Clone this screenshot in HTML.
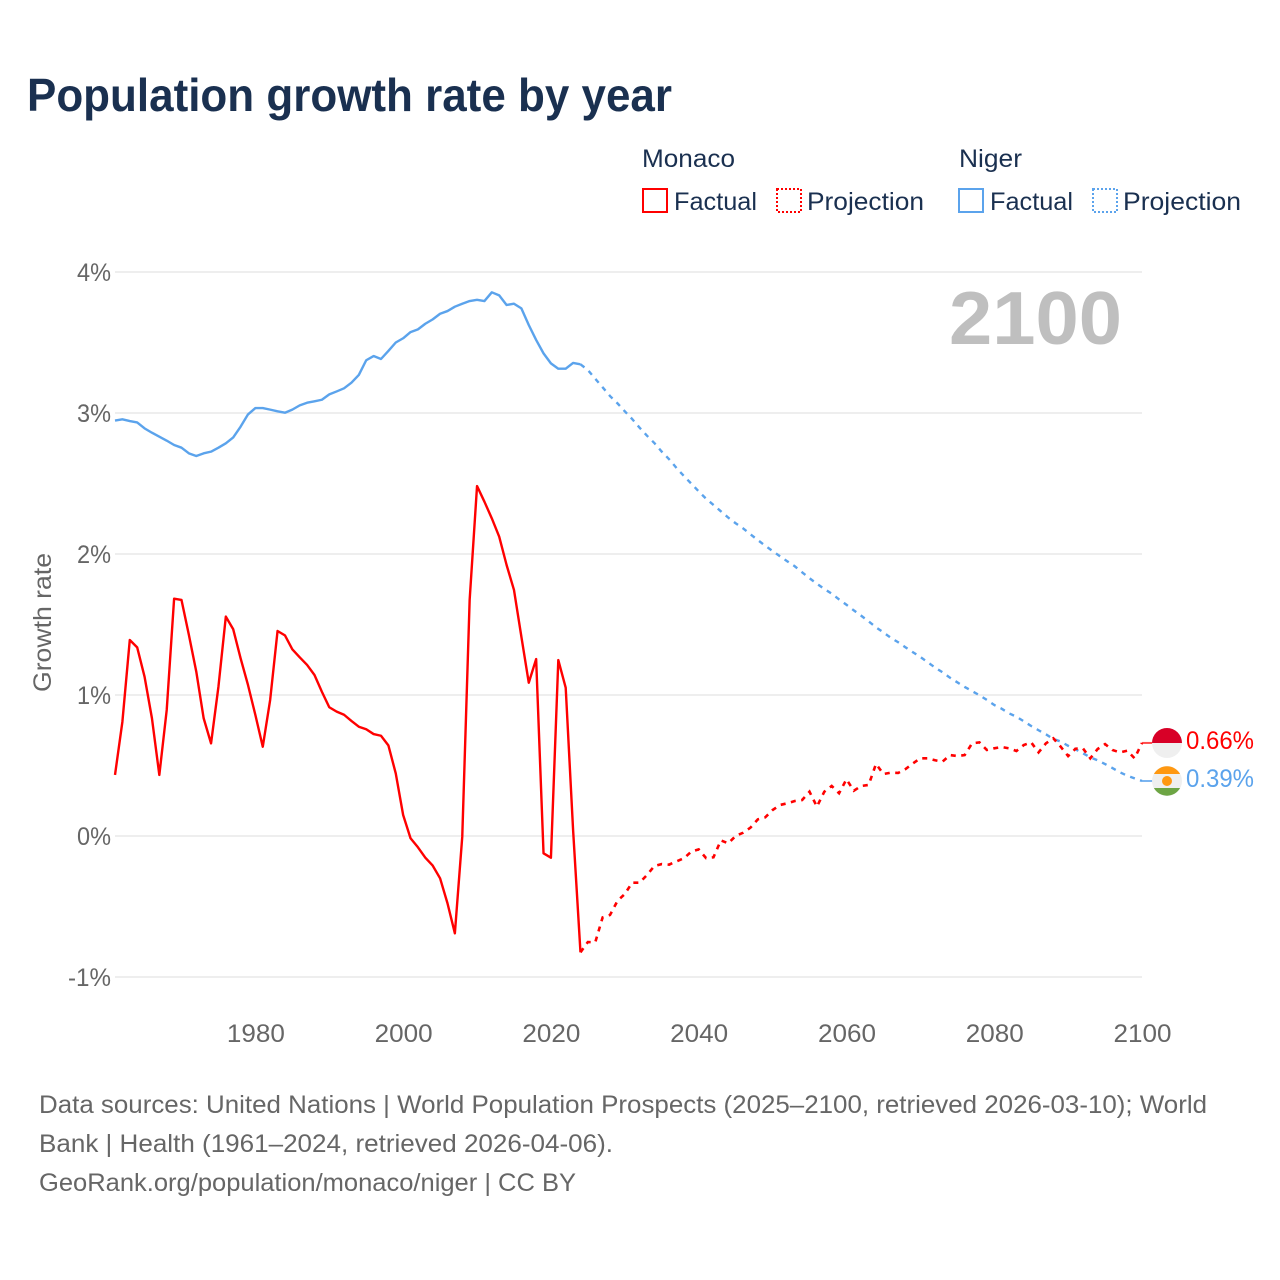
<!DOCTYPE html>
<html lang="en">
<head>
<meta charset="utf-8">
<title>Population growth rate by year</title>
<style>
html,body{margin:0;padding:0;background:#fff;}
svg{display:block;font-family:"Liberation Sans",sans-serif;}
</style>
</head>
<body>
<svg id="chart" xmlns="http://www.w3.org/2000/svg" width="1280" height="1280" viewBox="0 0 1280 1280">
  <rect x="0" y="0" width="1280" height="1280" fill="#ffffff"/>
  <text x="27" y="111" font-size="46" font-weight="700" fill="#1a3050" textLength="645" lengthAdjust="spacingAndGlyphs">Population growth rate by year</text>

  <g font-size="25" fill="#1a3050">
    <text x="642" y="167" textLength="93" lengthAdjust="spacingAndGlyphs">Monaco</text>
    <text x="959" y="167" textLength="63" lengthAdjust="spacingAndGlyphs">Niger</text>
    <rect x="643" y="189" width="24" height="23" fill="none" stroke="#ff0000" stroke-width="2"/>
    <text x="674" y="210" textLength="83" lengthAdjust="spacingAndGlyphs">Factual</text>
    <rect x="777" y="189" width="24" height="23" fill="none" stroke="#ff0000" stroke-width="2" stroke-dasharray="2 2"/>
    <text x="807" y="210" textLength="117" lengthAdjust="spacingAndGlyphs">Projection</text>
    <rect x="959" y="189" width="24" height="23" fill="none" stroke="#5ba3ec" stroke-width="2"/>
    <text x="990" y="210" textLength="83" lengthAdjust="spacingAndGlyphs">Factual</text>
    <rect x="1093" y="189" width="24" height="23" fill="none" stroke="#5ba3ec" stroke-width="2" stroke-dasharray="2 2"/>
    <text x="1123" y="210" textLength="118" lengthAdjust="spacingAndGlyphs">Projection</text>
  </g>

  <text transform="translate(51,692) rotate(-90)" font-size="25" fill="#666666" textLength="139" lengthAdjust="spacingAndGlyphs">Growth rate</text>
  <text x="949" y="344" font-size="75" font-weight="700" fill="#bfbfbf" textLength="173" lengthAdjust="spacingAndGlyphs">2100</text>

  <g id="grid"></g>
  <g id="yticks"></g>
  <g id="xticks"></g>
  <g id="series"></g>

  <g>
    <circle cx="1167" cy="743" r="15" fill="#efefef"/>
    <path d="M1152 743 A15 15 0 0 1 1182 743 Z" fill="#d80027"/>
  </g>
  <g>
    <circle cx="1167" cy="781" r="15" fill="#efefef"/>
    <path d="M1153.9 774 A15 15 0 0 1 1180.1 774 Z" fill="#ff9811"/>
    <path d="M1153.9 788 A15 15 0 0 0 1180.1 788 Z" fill="#6da544"/>
    <circle cx="1167" cy="781" r="5" fill="#ff9811"/>
  </g>
  <g id="endlabels"></g>

  <g font-size="25" fill="#666666">
    <text x="39" y="1113" textLength="1168" lengthAdjust="spacingAndGlyphs">Data sources: United Nations | World Population Prospects (2025–2100, retrieved 2026-03-10); World</text>
    <text x="39" y="1152" textLength="574" lengthAdjust="spacingAndGlyphs">Bank | Health (1961–2024, retrieved 2026-04-06).</text>
    <text x="39" y="1191" textLength="537" lengthAdjust="spacingAndGlyphs">GeoRank.org/population/monaco/niger | CC BY</text>
  </g>
</svg>
<script>
const yTickValues = [4, 3, 2, 1, 0, -1];
const yTickLabels = ["4%", "3%", "2%", "1%", "0%", "-1%"];
const xTickYears = [1980, 2000, 2020, 2040, 2060, 2080, 2100];
const factualStartYear = 1961;
const projectionStartYear = 2025;

const monacoFactual = [0.433,0.81,1.39,1.338,1.13,0.835,0.433,0.894,1.683,1.674,1.426,1.166,0.835,0.657,1.059,1.556,1.466,1.26,1.071,0.858,0.633,0.965,1.454,1.423,1.324,1.267,1.213,1.142,1.023,0.913,0.882,0.86,0.816,0.775,0.757,0.723,0.711,0.643,0.444,0.149,-0.016,-0.08,-0.154,-0.21,-0.30,-0.477,-0.69,-0.005,1.674,2.482,2.371,2.253,2.123,1.922,1.745,1.414,1.087,1.255,-0.123,-0.154,1.248,1.052,0.043,-0.825];
const monacoProjection = [-0.752,-0.754,-0.577,-0.56,-0.461,-0.411,-0.331,-0.331,-0.277,-0.213,-0.199,-0.203,-0.18,-0.158,-0.111,-0.095,-0.157,-0.151,-0.031,-0.052,0,0.023,0.059,0.118,0.132,0.184,0.22,0.232,0.248,0.255,0.314,0.208,0.314,0.355,0.303,0.402,0.321,0.355,0.362,0.511,0.44,0.449,0.447,0.475,0.515,0.551,0.551,0.537,0.527,0.574,0.567,0.574,0.657,0.664,0.61,0.622,0.631,0.622,0.603,0.645,0.664,0.593,0.657,0.693,0.633,0.567,0.619,0.622,0.551,0.617,0.652,0.61,0.593,0.605,0.551,0.66];
const nigerFactual = [2.946,2.955,2.943,2.933,2.891,2.86,2.832,2.804,2.773,2.754,2.714,2.695,2.714,2.726,2.754,2.785,2.827,2.903,2.99,3.035,3.035,3.024,3.012,3.002,3.024,3.054,3.073,3.083,3.094,3.132,3.153,3.175,3.215,3.27,3.374,3.404,3.383,3.44,3.50,3.53,3.574,3.593,3.633,3.664,3.704,3.723,3.754,3.775,3.794,3.803,3.794,3.856,3.834,3.766,3.775,3.742,3.624,3.518,3.423,3.352,3.314,3.314,3.355,3.345];
const nigerProjection = [3.305,3.243,3.182,3.12,3.069,3.012,2.957,2.896,2.839,2.787,2.726,2.672,2.61,2.553,2.499,2.444,2.392,2.348,2.303,2.258,2.218,2.182,2.14,2.099,2.059,2.021,1.984,1.948,1.913,1.87,1.828,1.789,1.752,1.719,1.678,1.64,1.6,1.562,1.522,1.48,1.444,1.406,1.374,1.338,1.303,1.27,1.232,1.194,1.161,1.123,1.09,1.057,1.028,0.998,0.965,0.929,0.903,0.87,0.846,0.814,0.78,0.75,0.721,0.688,0.67,0.64,0.615,0.587,0.558,0.537,0.51,0.482,0.452,0.428,0.409,0.39];

const NS = 'http://www.w3.org/2000/svg';
const xScale = function (year) { return 115 + (year - 1961) * (1142 - 115) / (2100 - 1961); };
const yScale = function (v) { return 836 - v * 141; };

function make(parent, tag, attrs, text) {
  const el = document.createElementNS(NS, tag);
  Object.keys(attrs).forEach(function (k) { el.setAttribute(k, attrs[k]); });
  if (text !== undefined) el.textContent = text;
  document.getElementById(parent).appendChild(el);
  return el;
}

yTickValues.forEach(function (v, i) {
  const line = make('grid', 'line', { x1: 115, x2: 1142, y1: yScale(v), y2: yScale(v), stroke: '#e8e8e8', 'stroke-width': 1.5 });
  
  
  const label = make('yticks', 'text', { x: 111, y: yScale(v) + 9, 'text-anchor': 'end', 'font-size': 25, fill: '#666666', textLength: v < 0 ? 43 : 34, lengthAdjust: 'spacingAndGlyphs' }, yTickLabels[i]);
  
  
});

xTickYears.forEach(function (year) {
  const label = make('xticks', 'text', { x: xScale(year) + 0.5, y: 1042, 'text-anchor': 'middle', 'font-size': 25, fill: '#666666', textLength: 58, lengthAdjust: 'spacingAndGlyphs' }, String(year));
  
  
});

function pathFrom(startYear, values) {
  return values.map(function (v, i) {
    return (i ? 'L' : 'M') + xScale(startYear + i).toFixed(2) + ' ' + yScale(v).toFixed(2);
  }).join(' ');
}

const monacoColor = '#ff0000';
const nigerColor = '#5ba3ec';

const nigerFactualLine = make('series', 'path', { d: pathFrom(factualStartYear, nigerFactual), fill: 'none', stroke: nigerColor, 'stroke-width': 2.4, 'stroke-linejoin': 'round' });



const nigerProjectionLine = make('series', 'path', { d: pathFrom(projectionStartYear - 1, [nigerFactual[nigerFactual.length - 1]].concat(nigerProjection)), fill: 'none', stroke: nigerColor, 'stroke-width': 2.4, 'stroke-dasharray': '5 5.5' });



const monacoFactualLine = make('series', 'path', { d: pathFrom(factualStartYear, monacoFactual), fill: 'none', stroke: monacoColor, 'stroke-width': 2.4, 'stroke-linejoin': 'round' });



const monacoProjectionLine = make('series', 'path', { d: pathFrom(projectionStartYear - 1, [monacoFactual[monacoFactual.length - 1]].concat(monacoProjection)), fill: 'none', stroke: monacoColor, 'stroke-width': 2.6, 'stroke-dasharray': '5 5.5' });



const monacoEnd = monacoProjection[monacoProjection.length - 1];
const nigerEnd = nigerProjection[nigerProjection.length - 1];

const monacoConnector = make('series', 'line', { x1: 1142, x2: 1153, y1: yScale(monacoEnd), y2: yScale(monacoEnd), stroke: monacoColor, 'stroke-width': 2, 'stroke-opacity': 0.7 });



const nigerConnector = make('series', 'line', { x1: 1142, x2: 1153, y1: yScale(nigerEnd), y2: yScale(nigerEnd), stroke: nigerColor, 'stroke-width': 2, 'stroke-opacity': 0.8 });



const monacoLabel = make('endlabels', 'text', { x: 1186, y: 749, 'font-size': 25, fill: monacoColor, textLength: 68, lengthAdjust: 'spacingAndGlyphs' }, monacoEnd.toFixed(2) + '%');



const nigerLabel = make('endlabels', 'text', { x: 1186, y: 787, 'font-size': 25, fill: nigerColor, textLength: 68, lengthAdjust: 'spacingAndGlyphs' }, nigerEnd.toFixed(2) + '%');


</script>
</body>
</html>
